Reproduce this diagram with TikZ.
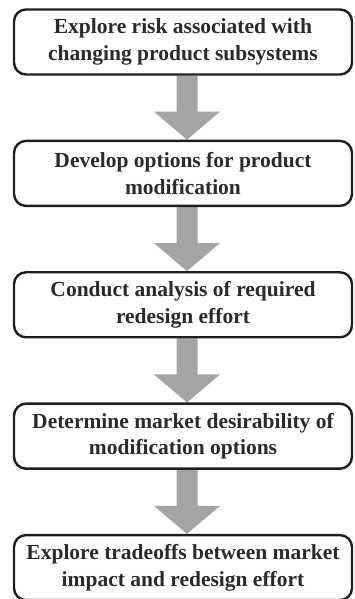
\documentclass[tikz,border=0pt]{standalone}
\usepackage{fontspec}
\setmainfont{Liberation Serif}
\definecolor{Boxline}{HTML}{1E1E1E}
\definecolor{Textcol}{HTML}{2A2A2A}
\definecolor{Arrowcol}{HTML}{A4A4A4}
\usetikzlibrary{calc, positioning, backgrounds}
\tikzset{
    stepbox/.style={draw=Boxline, line width=2.4pt, rounded corners=12pt,
        minimum width=338pt, minimum height=65pt, inner sep=2pt,
        align=center, text=Textcol,
        font=\fontsize{21.5}{26.5}\selectfont\bfseries}
}

\begin{document}
\begin{tikzpicture}[x=1pt, y=1pt]
    \useasboundingbox (0,0) rectangle (354,599);

    % Process steps, top to bottom
    \node[stepbox] (explore) at (183,557) {Explore risk associated with\\changing product subsystems};
    \node[stepbox, below=64pt of explore] (options) {Develop options for product\\modification};
    \node[stepbox, below=64pt of options] (analysis) {Conduct analysis of required\\redesign effort};
    \node[stepbox, below=64pt of analysis] (desire) {Determine market desirability of\\modification options};
    \node[stepbox, below=64pt of desire] (tradeoff) {Explore tradeoffs between market\\impact and redesign effort};

    % Gray block arrows between the steps
    \begin{scope}[on background layer]
        \foreach \srcbox/\dstbox in {explore/options, options/analysis, analysis/desire, desire/tradeoff}{
            \fill[Arrowcol] ($(\srcbox.south)+(-6.5,0)$) -- ($(\srcbox.south)+(14.5,0)$)
                -- ($(\dstbox.north)+(14.5,28)$) -- ($(\dstbox.north)+(37,28)$)
                -- ($(\dstbox.north)+(4,0)$) -- ($(\dstbox.north)+(-29,28)$)
                -- ($(\dstbox.north)+(-6.5,28)$) -- cycle;
        }
    \end{scope}
\end{tikzpicture}
\end{document}
